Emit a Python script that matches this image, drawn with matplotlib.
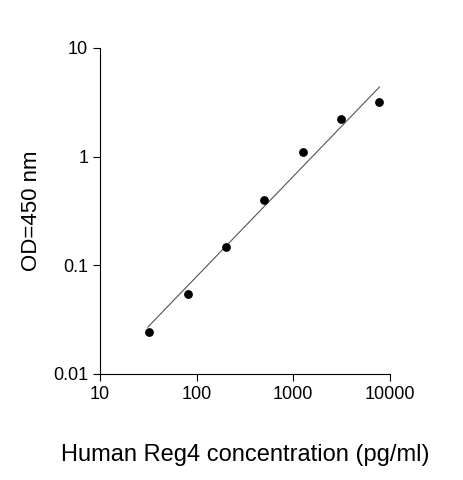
import matplotlib
matplotlib.use("Agg")
import matplotlib.pyplot as plt
import numpy as np

plt.rcParams['font.family'] = ['Liberation Sans', 'DejaVu Sans']

conc = [32.5, 80.5, 200, 500, 1250, 3150, 7800]
od = [0.0243, 0.0545, 0.147, 0.40, 1.10, 2.22, 3.2]
fit_x = [31.3, 7800]
fit_y = [0.027, 4.37]

fig = plt.figure(figsize=(4.63, 4.80), dpi=100)
ax = fig.add_axes([0.216, 0.221, 0.626, 0.679])
ax.set_xscale("log"); ax.set_yscale("log")
ax.plot(fit_x, fit_y, color="#555555", lw=0.8)
ax.scatter(conc, od, s=28, color="black", zorder=3)
ax.set_xlim(10, 10000); ax.set_ylim(0.01, 10)
ax.set_xticks([10, 100, 1000, 10000]); ax.set_xticklabels(["10", "100", "1000", "10000"])
ax.set_yticks([0.01, 0.1, 1, 10]); ax.set_yticklabels(["0.01", "0.1", "1", "10"])
ax.minorticks_off()
for s in ["top", "right"]:
    ax.spines[s].set_visible(False)
ax.tick_params(labelsize=13, direction="out", length=5)
ax.set_xlabel("Human Reg4 concentration (pg/ml)", fontsize=17, labelpad=30)
ax.set_ylabel("OD=450 nm", fontsize=16, labelpad=8)
fig.savefig("out.png", dpi=100)
